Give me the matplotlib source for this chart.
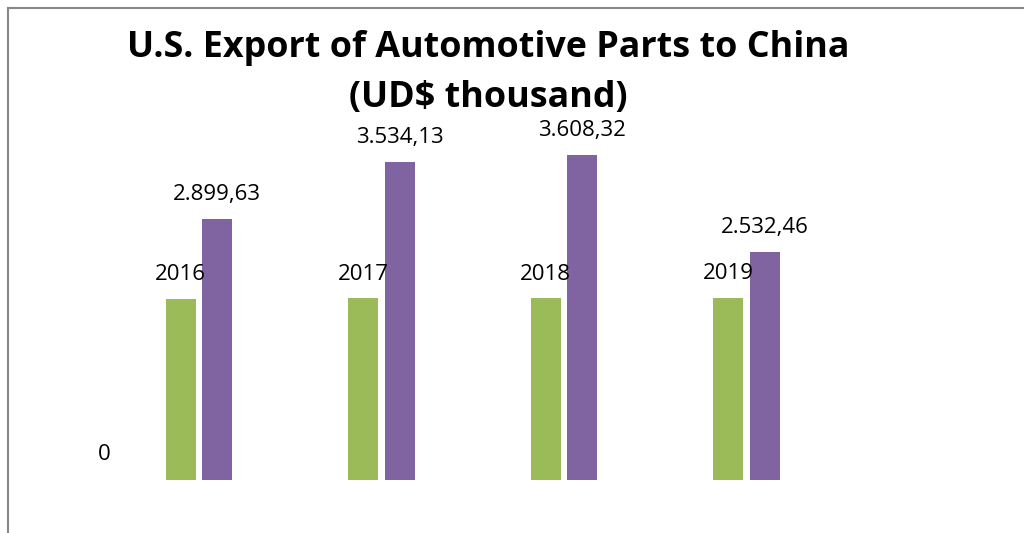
import matplotlib
matplotlib.use("Agg")
import matplotlib.pyplot as plt
from matplotlib.lines import Line2D
import numpy as np

years = [2016, 2017, 2018, 2019]
exports = [2899.63, 3534.13, 3608.32, 2532.46]
export_labels = ["2.899,63", "3.534,13", "3.608,32", "2.532,46"]

green = "#9BBB59"
purple = "#8064A2"

plt.rcParams['font.family'] = ['Open Sans', 'DejaVu Sans']

fig = plt.figure(figsize=(10.24, 5.33), dpi=100)
ax = fig.add_axes([8 / 1024, 53 / 533, 1016 / 1024, 472 / 533])

x = np.arange(len(years))
w = 0.165
ax.bar(x - 0.1, years, width=w, color=green)
ax.bar(x + 0.1, exports, width=w, color=purple)

# value labels above each bar
for i in range(len(years)):
    ax.annotate(str(years[i]), (x[i] - 0.1, years[i]), xytext=(0, 17.5),
                textcoords="offset points", ha="center", va="center", fontsize=16)
    ax.annotate(export_labels[i], (x[i] + 0.1, exports[i]), xytext=(0, 17.5),
                textcoords="offset points", ha="center", va="center", fontsize=16)

ax.set_xlim(-1.047, 4.521)
ax.set_ylim(0, 472 / 0.09)
ax.axis("off")

ax.text(105 / 1024 - 8 / 1016, 26 / 472, "0", transform=ax.transAxes,
        ha="center", va="center", fontsize=16)

fig.text(488 / 1024, 1 - 48 / 533, "U.S. Export of Automotive Parts to China",
         ha="center", va="center", fontsize=25.8, fontweight="bold")
fig.text(488 / 1024, 1 - 98 / 533, "(UD\\$ thousand)",
         ha="center", va="center", fontsize=25.8, fontweight="bold")

# chart frame (top and left edges)
fig.add_artist(Line2D([8 / 1024, 1], [1 - 8 / 533, 1 - 8 / 533], color="#888888", lw=1.5))
fig.add_artist(Line2D([8 / 1024, 8 / 1024], [0, 1 - 8 / 533], color="#888888", lw=1.5))

fig.savefig("out.png", dpi=100)
